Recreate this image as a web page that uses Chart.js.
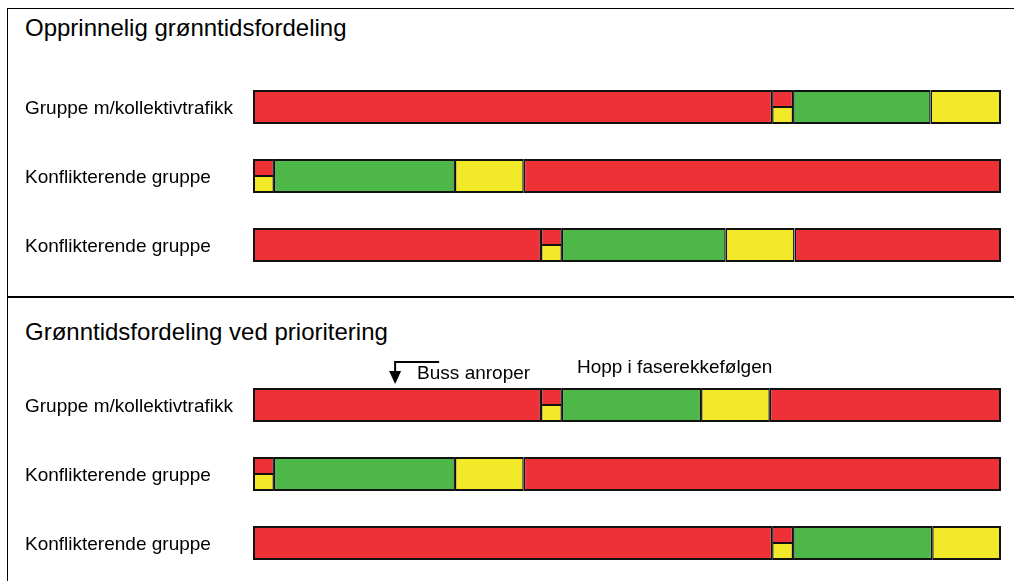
<!DOCTYPE html>
<html>
<head>
<meta charset="utf-8">
<script src="https://cdn.jsdelivr.net/npm/chart.js@4"></script>
<style>
    body { margin: 0; background: #fff; font-family: "Liberation Sans", Arial, sans-serif; }
    #page { position: relative; width: 1014px; height: 581px; overflow: hidden; }
    .line { position: absolute; background: #000; }
    .title { position: absolute; left: 25px; font-size: 24px; line-height: 24px; color: #000; white-space: nowrap; }
    canvas { position: absolute; left: 0; }
</style>
</head>
<body>
<div id="page">
    <div class="line" style="left:7px; top:8px; width:1px; height:573px;"></div>
    <div class="line" style="left:7px; top:8px; width:1007px; height:1px;"></div>
    <div class="line" style="left:7px; top:296px; width:1007px; height:2px;"></div>
    <div class="title" style="top:16px;">Opprinnelig grønntidsfordeling</div>
    <div class="title" style="top:320px;">Grønntidsfordeling ved prioritering</div>
    <canvas id="original" width="1014" height="296" style="top:0px;"></canvas>
    <canvas id="priority" width="1014" height="296" style="top:298px;"></canvas>
</div>
<script>
// rows and phases (R = rødt, RY = rødt/gult, G = grønt, Y = gult), durations in % of cycle
const rowLabels = ['Gruppe m/kollektivtrafikk', 'Konflikterende gruppe', 'Konflikterende gruppe'];

const originalPhases = [
    ['R', 'RY', 'G', 'Y'],
    ['RY', 'G', 'Y', 'R'],
    ['R', 'RY', 'G', 'Y', 'R']
];
const originalDurations = [
    [69.4, 2.8, 18.4, 9.4],
    [2.8, 24.2, 9.2, 63.8],
    [38.5, 2.8, 21.9, 9.2, 27.6]
];

const priorityPhases = [
    ['R', 'RY', 'G', 'Y', 'R'],
    ['RY', 'G', 'Y', 'R'],
    ['R', 'RY', 'G', 'Y']
];
const priorityDurations = [
    [38.5, 2.8, 18.6, 9.2, 30.9],
    [2.8, 24.2, 9.2, 63.8],
    [69.4, 2.8, 18.6, 9.2]
];

const busCallTime = 19.0;
const busText = 'Buss anroper';
const skipText = 'Hopp i faserekkefølgen';

const colors = { red: '#EE3136', green: '#4DB848', yellow: '#F2EA29' };

function phaseColor(phase, stack) {
    if (phase === 'R') return colors.red;
    if (phase === 'G') return colors.green;
    if (phase === 'Y') return colors.yellow;
    // red/yellow: red on top half, yellow on bottom half
    return stack === 'top' ? colors.red : colors.yellow;
}

function buildDatasets(phases, durations) {
    const maxSeg = Math.max(...phases.map(p => p.length));
    let datasets = [];
    ['top', 'bottom'].forEach(stack => {
        for (let k = 0; k < maxSeg; k++) {
            datasets.push({
                stack: stack,
                data: durations.map(r => (k < r.length ? r[k] : null)),
                backgroundColor: ctx => phaseColor(phases[ctx.dataIndex][k] || 'R', stack),
                borderColor: '#111',
                borderSkipped: false,
                inflateAmount: 0,
                borderWidth: ctx => {
                    const row = phases[ctx.dataIndex];
                    const ry = row[k] === 'RY';
                    return {
                        left: k === 0 ? 2 : 1.5,
                        right: k === row.length - 1 ? 2 : 1.5,
                        top: stack === 'top' ? 2 : (ry ? 1 : 0),
                        bottom: stack === 'bottom' ? 2 : (ry ? 1 : 0)
                    };
                },
                categoryPercentage: 34 / 69,
                barPercentage: 1
            });
        }
    });
    return datasets;
}

const busAnnotation = {
    id: 'busAnnotation',
    afterDraw(chart) {
        const ctx = chart.ctx;
        const x = chart.scales.x.getPixelForValue(busCallTime);
        const skipX = chart.scales.x.getPixelForValue(priorityDurations[0][0] + priorityDurations[0][1]);
        ctx.save();
        ctx.strokeStyle = '#000';
        ctx.fillStyle = '#000';
        ctx.lineWidth = 2;
        ctx.beginPath();
        ctx.moveTo(x + 44, 64);
        ctx.lineTo(x, 64);
        ctx.lineTo(x, 76);
        ctx.stroke();
        ctx.beginPath();
        ctx.moveTo(x - 6, 73);
        ctx.lineTo(x + 6, 73);
        ctx.lineTo(x, 86);
        ctx.closePath();
        ctx.fill();
        ctx.font = '19px "Liberation Sans", Arial, sans-serif';
        ctx.textBaseline = 'alphabetic';
        ctx.fillText(busText, x + 22, 81);
        ctx.fillText(skipText, skipX + 15, 75);
        ctx.restore();
    }
};

function drawChart(canvasId, phases, durations, plugins) {
    const ctx = document.getElementById(canvasId);

    new Chart(ctx, {
        type: 'bar',
        data: {
            labels: rowLabels,
            datasets: buildDatasets(phases, durations)
        },
        options: {
            indexAxis: 'y',
            responsive: false,
            animation: false,
            events: [],
            layout: {
                padding: { left: 25, right: 13, top: 72.5, bottom: 16.5 }
            },
            plugins: {
                legend: { display: false },
                tooltip: { enabled: false }
            },
            scales: {
                x: {
                    display: false,
                    min: 0,
                    max: 100
                },
                y: {
                    grid: { display: false },
                    border: { display: false },
                    afterFit: scale => { scale.width = 228; },
                    ticks: {
                        crossAlign: 'far',
                        padding: 0,
                        labelOffset: 2,
                        color: '#000',
                        font: { family: '"Liberation Sans", Arial, sans-serif', size: 19 }
                    }
                }
            }
        },
        plugins: plugins
    });
}

drawChart('original', originalPhases, originalDurations, []);
drawChart('priority', priorityPhases, priorityDurations, [busAnnotation]);
</script>
</body>
</html>
